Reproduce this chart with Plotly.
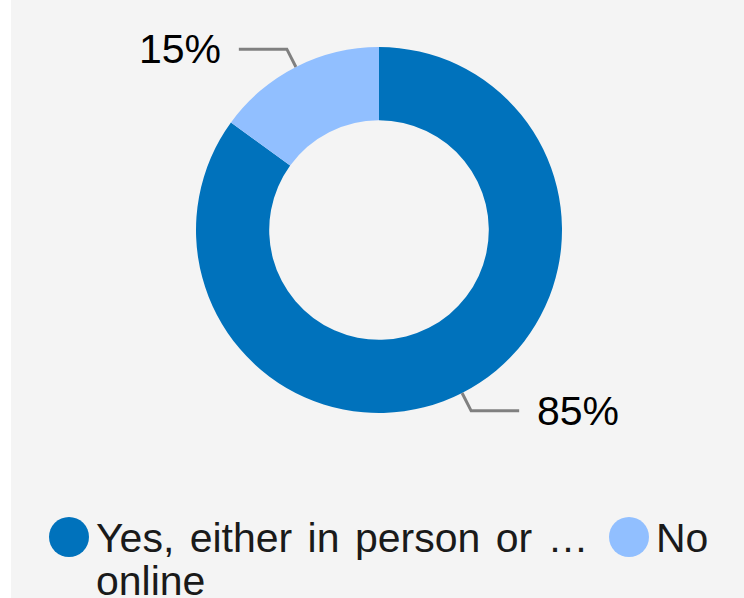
import math
import plotly.graph_objects as go

labels = ["Yes, either in person or online", "No"]
values = [85, 15]
legend_lines = [["Yes, either in person or …", "online"], ["No"]]
colors = ["#0072BC", "#91BFFF"]

W, H = 744, 598
CX, CY, R = 379, 230, 183  # pie centre and radius, px
FONT = "Liberation Sans, Arial, sans-serif"


def px(x):
    return x / W


def py(y):
    return 1 - y / H


fig = go.Figure()

fig.add_trace(
    go.Pie(
        labels=labels,
        values=values,
        hole=0.6,
        sort=False,
        direction="clockwise",
        marker=dict(colors=colors),
        textinfo="none",
        showlegend=False,
        hoverinfo="label+percent",
        domain=dict(
            x=[px(CX - R), px(CX + R)],
            y=[py(CY + R), py(CY - R)],
        ),
    )
)

shapes = [
    # white strip at the left edge
    dict(type="rect", xref="paper", yref="paper", x0=0, x1=px(11), y0=0, y1=1,
         fillcolor="white", line_width=0, layer="above"),
]
annotations = []

# outside labels with leader lines, placed from each slice's mid angle
total = sum(values)
start = 0.0
for val in values:
    mid = start + val / total / 2
    ang = 2 * math.pi * mid  # clockwise from 12 o'clock
    sx, sy = CX + R * math.sin(ang), CY - R * math.cos(ang)
    ex, ey = CX + (R + 20) * math.sin(ang), CY - (R + 20) * math.cos(ang)
    side = 1 if math.sin(ang) >= 0 else -1
    hx = ex + side * 48
    shapes.append(
        dict(type="path", xref="paper", yref="paper",
             path=f"M {px(sx)},{py(sy)} L {px(ex)},{py(ey)} L {px(hx)},{py(ey)}",
             line=dict(color="#808080", width=3))
    )
    annotations.append(
        dict(x=px(hx + side * 16), y=py(ey), xref="paper", yref="paper",
             text=f"{round(100 * val / total)}%", showarrow=False,
             xanchor="left" if side > 0 else "right", yanchor="middle",
             font=dict(size=41, color="black", family=FONT))
    )
    start += val / total

# custom legend with round markers
leg_x = [69, 629]
leg_y = 537
for i, lines in enumerate(legend_lines):
    shapes.append(
        dict(type="circle", xref="paper", yref="paper",
             x0=px(leg_x[i] - 20), x1=px(leg_x[i] + 20),
             y0=py(leg_y + 20), y1=py(leg_y - 20),
             fillcolor=colors[i], line_width=0)
    )
    for j, line in enumerate(lines):
        annotations.append(
            dict(x=px(leg_x[i] + 25), y=py(leg_y + 1 + 43 * j), xref="paper", yref="paper",
                 text=f'<span style="word-spacing:4px">{line}</span>',
                 showarrow=False, xanchor="left", yanchor="middle",
                 font=dict(size=41, color="#1a1a1a", family=FONT))
        )

fig.update_layout(
    width=W,
    height=H,
    margin=dict(l=0, r=0, t=0, b=0),
    paper_bgcolor="#F4F4F4",
    plot_bgcolor="#F4F4F4",
    font=dict(family=FONT),
    shapes=shapes,
    annotations=annotations,
)

fig.write_html(
    "out.html",
    config={"displayModeBar": False},
    post_script="document.body.style.margin='0';document.body.style.overflow='hidden';",
)
